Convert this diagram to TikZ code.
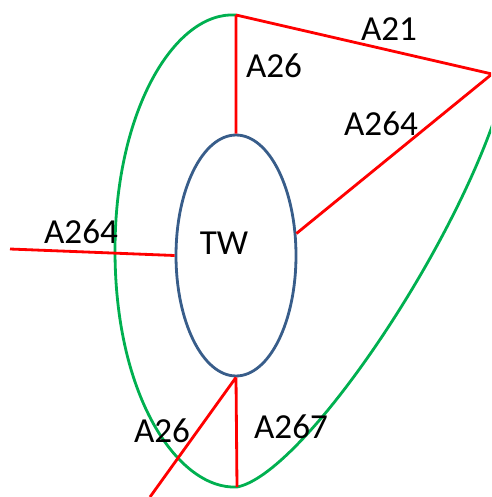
\documentclass[tikz,border=0pt]{standalone}
\usepackage{fontspec}
\setmainfont{Carlito}
\usetikzlibrary{shapes.geometric}
\definecolor{zonegreen}{RGB}{0,176,80}
\definecolor{townblue}{RGB}{56,93,138}

\begin{document}
\begin{tikzpicture}[x=0.02cm, y=-0.02cm,
  road/.style = {draw=red, line width=1.6pt},
  zone/.style = {draw=zonegreen, line width=1.6pt},
  lbl/.style = {font=\fontsize{20}{24}\selectfont, inner sep=0pt},
  town/.style = {ellipse, draw=townblue, line width=1.6pt, minimum width=2.4cm, minimum height=4.82cm, inner sep=0pt}]
			\useasboundingbox (0,0) rectangle (491,497);
			\clip (0,0) rectangle (491,497);
			\node[town] (tw) at (236,255.5) {};
			\node[lbl] (twname) at (224,243) {TW};
			\coordinate (top) at (236,15);
			\coordinate (corner) at (492,74);
			\coordinate (west) at (10,249);
			\coordinate (south) at (237,487);
			\coordinate (sw) at (150,497);
			% zone boundary
			\draw[zone] (top) .. controls (175,11) and (115,110) .. (115,250)
				.. controls (115,400) and (180,490) .. (south);
			\draw[zone] (south) .. controls (300,475) and (445,265) .. (496,115);
			% roads
			\path[road]
				(top) -- (corner)
				(top) -- (tw.north)
				(tw.20) -- (corner)
				(west) -- (tw.west)
				(tw.south) -- (sw)
				(tw.south) -- (south);
			\node[lbl] (a21) at (389,29) {A21};
			\node[lbl] (a26n) at (274,66) {A26};
			\node[lbl] (a264e) at (381,124) {A264};
			\node[lbl] (a264w) at (81,232) {A264};
			\node[lbl] (a26s) at (162,431) {A26};
			\node[lbl] (a267) at (291,427) {A267};
		\end{tikzpicture}
\end{document}
